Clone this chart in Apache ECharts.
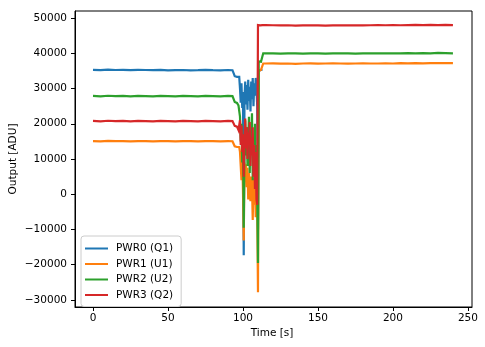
<!DOCTYPE html>
<html>
<head>
<meta charset="utf-8">
<script src="https://cdn.jsdelivr.net/npm/echarts@6/dist/echarts.min.js"></script>
<style>
  html, body { margin: 0; padding: 0; background: #fff; }
  #chart { width: 485px; height: 347px; }
</style>
</head>
<body>
<div id="chart"></div>
<script>
// Sample times [s]: steady start, dense sampling through the switch-over, steady end
const timePre = [0, 5, 10, 15, 20, 25, 30, 35, 40, 45, 50, 55, 60, 65, 70, 75, 80, 85, 90, 93];
const timeSwitch = [94, 94.5, 95, 95.5, 96, 96.5, 97, 97.5,
  98, 98.5, 99, 99.5, 100, 100.5, 101, 101.5,
  102, 102.5, 103, 103.5, 104, 104.5, 105, 105.5,
  106, 106.5, 107, 107.5, 108, 108.5, 109, 109.5,
  110, 110.5, 111, 111.5, 112, 112.5, 113, 113.5, 114];
const timePost = [115, 120, 125, 130, 135, 140, 145, 150, 155, 160, 165, 170, 175,
  180, 185, 190, 195, 200, 205, 210, 215, 220, 225, 230, 235, 240];

// Output [ADU] per channel
const pwr0 = [
  35300, 35200, 35350, 35250, 35300, 35200, 35300, 35250, 35200, 35300, 35150, 35200, 35250, 35150, 35200, 35300, 35200, 35150, 35250, 35200,
  35200, 33500, 33400, 33500, 33300, 33400, 33200, 33300,
  30000, 26000, 31500, 24500, 29000, -17300, 27000, 32000,
  25500, 31000, 24000, 32500, 26500, 30500, 23500, 32000,
  27000, 33000, 25000, 31500, 28000, 33000, 30000, 25000,
  -10000, 35000, 35300, 35200, 35300, 35200, 35300
];
const pwr1 = [
  15100, 15000, 15150, 15050, 15100, 15000, 15100, 15050, 15000, 15100, 15050, 15000, 15100, 15050, 15000, 15100, 15050, 15000, 15100, 15050,
  15100, 13600, 13500, 13600, 13400, 13500, 13500, 13400,
  12000, 11800, 4000, 10500, 800, -13100, 9000, 3500,
  8500, 2000, 7500, -1500, 6000, 1000, -2000, 5000,
  2500, -7300, 4500, -3000, 3000, -6500, 1500, -4000,
  -27800, 35000, 35300, 35200, 35300, 35200, 35300, 37100,
  37200,
  37100, 37150, 37050, 37100, 37000, 37100, 37150, 37050, 37100, 37150, 37100, 37050, 37100, 37150, 37100, 37100, 37150, 37100, 37200, 37150, 37200, 37150, 37200, 37250, 37200, 37200
];
const pwr2 = [
  27900, 27800, 27950, 27850, 27900, 27800, 27900, 27850, 27800, 27900, 27850, 27800, 27900, 27850, 27800, 27900, 27850, 27800, 27900, 27850,
  27900, 26200, 26000, 26100, 25900, 26000, 25200, 25000,
  22000, 15000, 20000, 9000, 17000, -9500, 14000, 21000,
  11000, 19000, 8000, 16000, 22000, 6000, 18000, 12000,
  23000, 4000, 15000, 9000, 20000, 2000, 14000, 0,
  -19500, 37700, 37600, 37700, 37600, 37700, 37600, 40000,
  39900,
  40000, 39950, 39900, 40000, 39950, 39900, 39950, 40000, 39900, 39950, 40000, 39950, 39900, 39950, 40000, 39950, 40000, 39950, 40000, 40050, 40000, 40050, 40000, 40100, 40050, 40000
];
const pwr3 = [
  20800, 20700, 20850, 20750, 20800, 20700, 20800, 20750, 20700, 20800, 20750, 20700, 20800, 20750, 20700, 20800, 20750, 20700, 20800, 20750,
  20800, 19400, 19300, 19400, 19200, 19300, 18200, 18000,
  21000, 14000, 19500, 12000, 17000, 5000, 15000, 21500,
  13000, 19000, 10000, 17500, 14000, 20500, 8000, 16000,
  11000, 19000, 5000, 14000, 1500, 12000, -1500, -3000,
  48000, 47900, 48000, 47900, 48000, 47900, 48000, 47900,
  48000,
  48000, 47950, 47900, 47950, 47850, 47900, 47950, 47900, 47850, 47900, 47950, 47900, 47950, 47900, 47950, 48000, 47950, 48000, 47950, 48000, 48050, 48000, 48050, 48000, 48050, 48000
];

const seriesNames = ['PWR0 (Q1)', 'PWR1 (U1)', 'PWR2 (U2)', 'PWR3 (Q2)'];
const seriesColors = ['#1f77b4', '#ff7f0e', '#2ca02c', '#d62728'];
const xTicks = [0, 50, 100, 150, 200, 250];
const yTicks = [-30000, -20000, -10000, 0, 10000, 20000, 30000, 40000, 50000];

const times = timePre.concat(timeSwitch, timePost);
const channels = [pwr0, pwr1, pwr2, pwr3];
const pairs = vals => vals.map((v, i) => [times[i], v]);
const minus = v => String(v).replace('-', '\u2212');

const FONT = 'DejaVu Sans';
const chart = echarts.init(document.getElementById('chart'), null, { renderer: 'canvas' });

const axisCommon = {
  type: 'value',
  splitLine: { show: false },
  axisLine: { show: true, onZero: false, lineStyle: { color: '#000', width: 1 } },
  axisTick: { show: true, inside: false, length: 4, lineStyle: { color: '#000', width: 1 } },
  axisLabel: { color: '#000', fontFamily: FONT, fontSize: 10.5, formatter: minus }
};

chart.setOption({
  animation: false,
  backgroundColor: '#fff',
  grid: { left: 75, right: 13, top: 11, bottom: 40, show: true, borderColor: '#000', borderWidth: 1, containLabel: false },
  xAxis: Object.assign({}, axisCommon, {
    min: -12, max: 252.7,
    axisTick: Object.assign({}, axisCommon.axisTick, { customValues: xTicks }),
    axisLabel: Object.assign({}, axisCommon.axisLabel, { customValues: xTicks, margin: 6 })
  }),
  yAxis: Object.assign({}, axisCommon, {
    min: -32000, max: 52000,
    axisTick: Object.assign({}, axisCommon.axisTick, { customValues: yTicks }),
    axisLabel: Object.assign({}, axisCommon.axisLabel, { customValues: yTicks, margin: 8 })
  }),
  legend: {
    orient: 'vertical',
    left: 81, top: 236,
    itemWidth: 23, itemHeight: 2,
    itemGap: 4.5,
    icon: 'rect',
    padding: [7, 8, 6, 4],
    borderColor: '#cccccc', borderWidth: 1, borderRadius: 3,
    backgroundColor: 'rgba(255,255,255,0.8)',
    textStyle: { color: '#000', fontFamily: FONT, fontSize: 10.5, lineHeight: 11, padding: [0, 0, 0, 3] },
    data: seriesNames
  },
  graphic: [
    { type: 'text', x: 272, y: 333, style: { text: 'Time [s]', font: '10.5px "DejaVu Sans"', fill: '#000', align: 'center', verticalAlign: 'middle' } },
    { type: 'text', x: 13, y: 159, rotation: Math.PI / 2, style: { text: 'Output [ADU]', font: '10.5px "DejaVu Sans"', fill: '#000', align: 'center', verticalAlign: 'middle' } }
  ],
  series: channels.map((vals, k) => ({
    name: seriesNames[k],
    type: 'line',
    data: pairs(vals),
    showSymbol: false,
    symbol: 'none',
    clip: true,
    color: seriesColors[k],
    lineStyle: { width: 2.2, color: seriesColors[k], join: 'miter' }
  }))
});
</script>
</body>
</html>
